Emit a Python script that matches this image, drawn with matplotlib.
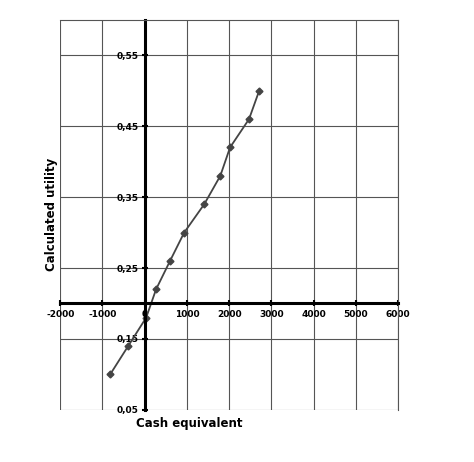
import matplotlib
matplotlib.use("Agg")
import matplotlib.pyplot as plt

plt.rcParams["font.family"] = ["Liberation Sans Narrow", "DejaVu Sans"]

cash = [-816, -390, 35, 270, 600, 935, 1410, 1790, 2020, 2470, 2710]
utility = [0.10, 0.14, 0.18, 0.22, 0.26, 0.30, 0.34, 0.38, 0.42, 0.46, 0.50]
xticks = list(range(-2000, 6001, 1000))
yticks = [0.05, 0.15, 0.25, 0.35, 0.45, 0.55]
ylabels = ["0,05", "0,15", "0,25", "0,35", "0,45", "0,55"]

fig = plt.figure(figsize=(4.74, 4.62), dpi=100)
ax = fig.add_axes([0.127, 0.113, 0.713, 0.844])
ax.plot(cash, utility, color="#444444", lw=1.3, marker="D", ms=3.5)
ax.set_xlim(-2000, 6000)
ax.set_ylim(0.05, 0.60)
ax.set_xticks(xticks, [str(v) for v in xticks])
ax.set_yticks(yticks, ylabels)
ax.grid(True, color="#555555", lw=0.8)
for s in ["top", "right"]:
    ax.spines[s].set_color("#555555")
    ax.spines[s].set_linewidth(0.8)
ax.spines["left"].set_position(("data", 0))
ax.spines["bottom"].set_position(("data", 0.2))
ax.spines["left"].set_linewidth(2.2)
ax.spines["bottom"].set_linewidth(2.2)
ax.tick_params(direction="inout", length=5, width=1.5, pad=2, labelsize=6.5)
for lab in ax.get_xticklabels() + ax.get_yticklabels():
    lab.set_fontweight("bold")
fig.text(0.40, 0.075, "Cash equivalent", fontsize=8.5, fontweight="bold", ha="center")
fig.text(0.095, 0.535, "Calculated utility", fontsize=8.5, fontweight="bold",
         rotation=90, va="center")
fig.savefig("out.png", dpi=100)
